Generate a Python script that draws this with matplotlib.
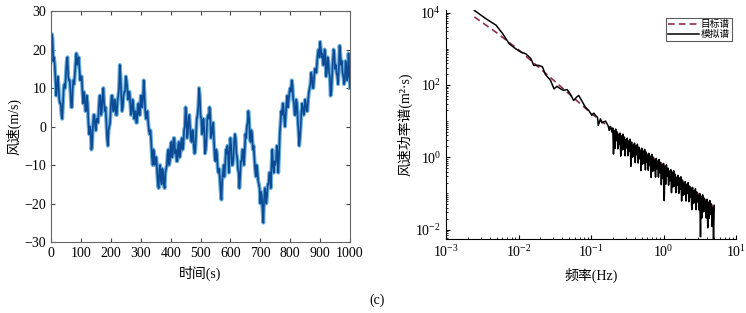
"""Wind speed time history (left) and its power spectrum vs target (right)."""
import matplotlib
matplotlib.use("Agg")
import matplotlib.pyplot as plt
import numpy as np
from matplotlib.ticker import LogLocator, NullFormatter

plt.rcParams["font.family"] = ["Liberation Serif", "Noto Sans CJK SC"]
plt.rcParams["mathtext.fontset"] = "stix"
plt.rcParams["font.size"] = 10
plt.rcParams["path.simplify"] = False  # keep the fine zigzag of the noisy spectrum

# ---- left panel: wind speed history ----
# values at t = 0, 5, 10, ... 1000 s
wind_speed = [
    17, 23, 18, 12, 10, 11, 6, 3, 6, 11,
    14, 18, 12, 9, 5, 12, 14, 19, 17, 15,
    13, 9, 9, 4, 8, 1, 0, -6, 0, 3,
    -1, 2, 5, 8, 4, 10, 4, 1, -5, 0,
    5, 8, 4, 6, 3, 8, 16, 8, 5, 9,
    13, 10, 9, 6, 4, 6, 3, 1, 5, 3,
    8, 5, 12, 4, 3, 1, -2, -4, -10, -7,
    -8, -12, -16, -10, -15, -12, -16, -11, -7, -10,
    -5, -8, -3, -7, -9, -5, -8, -4, -6, -1,
    5, -3, 2, 0, -4, -1, -7, -2, 3, 10,
    3, -2, 2, -7, -3, 3, 5, -3, 0, -4,
    -9, -7, -12, -14, -19, -12, -13, -6, -5, -12,
    -3, -10, -8, -2, -7, -11, -16, -9, -6, -10,
    -2, 0, 4, -3, -1, -6, -8, -13, -11, -15,
    -20, -18, -25, -16, -20, -15, -12, -16, -6, -12,
    -10, -5, -12, -2, 4, 6, 2, 3, 8, 7,
    10, 12, 7, 3, 7, 2, -5, 0, 6, 3,
    7, 4, 7, 10, 14, 10, 13, 15, 17, 20,
    22, 18, 16, 20, 13, 18, 14, 8, 13, 20,
    15, 14, 11, 21, 16, 14, 11, 17, 12, 19,
    10,
]
# values at t = 2.5, 7.5, ... 997.5 s (fine-scale wiggle)
wind_speed_mid = [
    24, 17, 16, 8, 13, 7, 6, 2, 10, 10,
    17, 13, 12, 5, 10, 11, 17, 16, 18, 12,
    13, 6, 8, 4, 6, -2, -1, -5, 3, 0,
    2, 1, 8, 3, 8, 6, 5, -3, -1, 1,
    8, 4, 7, 3, 7, 10, 13, 4, 8, 9,
    12, 7, 9, 3, 7, 2, 4, 1, 6, 3,
    8, 7, 9, 2, 4, -1, -1, -8, -6, -10,
    -8, -15, -11, -14, -11, -15, -12, -10, -6, -9,
    -4, -7, -3, -6, -9, -4, -7, -3, -5, 0,
    3, -2, 3, -3, -1, -5, -6, 2, 5, 8,
    2, -1, -1, -6, 2, 2, 3, -2, 1, -8,
    -6, -11, -11, -17, -14, -10, -10, -7, -8, -6,
    -5, -10, -4, -3, -8, -12, -13, -9, -6, -7,
    -3, 1, 2, -4, -2, -5, -11, -10, -14, -16,
    -17, -22, -19, -17, -18, -15, -12, -10, -10, -9,
    -9, -7, -8, 1, 3, 5, 0, 6, 5, 9,
    9, 11, 6, 3, 6, -1, -3, 4, 5, 4,
    6, 4, 9, 11, 13, 10, 15, 14, 19, 18,
    20, 19, 16, 18, 14, 17, 13, 9, 17, 19,
    16, 13, 15, 19, 17, 13, 12, 16, 13, 15,
]
t_step = 5.0
t_main = np.arange(len(wind_speed)) * t_step
t_mid = np.arange(len(wind_speed_mid)) * t_step + t_step / 2
time_s = np.empty(len(t_main) + len(t_mid))
speed = np.empty_like(time_s)
time_s[0::2], time_s[1::2] = t_main, t_mid
speed[0::2], speed[1::2] = wind_speed, wind_speed_mid

# ---- right panel: spectra in log10 units ----
target_logf = [-2.61, -2.30, -2.00, -1.50, -1.00, -0.50, 0.00, 0.50, 0.70]
target_logS = [3.88, 3.44, 2.97, 2.10, 1.22, 0.45, -0.22, -1.05, -1.38]

# smooth low-frequency part of the simulated spectrum
sim_low_logf = [-2.61, -2.45, -2.31, -2.22, -2.13, -2.04, -1.97, -1.90, -1.83, -1.79,
                -1.72, -1.67, -1.63, -1.56, -1.51, -1.47, -1.42, -1.38, -1.33, -1.29,
                -1.24, -1.20, -1.17, -1.13, -1.08, -1.03, -0.99, -0.96, -0.94, -0.91,
                -0.90, -0.87, -0.85, -0.83, -0.80, -0.78, -0.76, -0.75, -0.73, -0.71]
sim_low_logS = [4.06, 3.83, 3.65, 3.42, 3.14, 3.00, 2.91, 2.86, 2.73, 2.54,
                2.54, 2.50, 2.29, 2.13, 1.89, 1.96, 1.89, 1.85, 1.87, 1.76,
                1.57, 1.66, 1.71, 1.57, 1.39, 1.29, 1.16, 1.22, 1.16, 1.10,
                0.88, 1.06, 0.95, 0.97, 1.00, 0.93, 0.85, 0.74, 0.85, 0.69]

# noisy high-frequency part, on a 0.01-decade grid from 10^-0.70 to 10^0.70
sim_high_logS = [
    0.81, 0.09, 0.73, 0.24, 0.78, 0.46, 0.70, 0.23, 0.62, 0.35,
    0.67, 0.03, 0.59, 0.20, 0.64, 0.22, 0.56, 0.04, 0.48, 0.26,
    0.53, 0.04, 0.45, 0.16, 0.50, -0.25, 0.42, 0.00, 0.34, 0.02,
    0.39, -0.15, 0.31, 0.07, 0.36, -0.16, 0.28, -0.04, 0.20, -0.37,
    0.25, -0.19, 0.17, -0.17, 0.22, -0.35, 0.14, -0.13, 0.06, -0.36,
    0.11, -0.23, 0.03, -0.56, 0.08, -0.39, 0.00, -0.37, -0.08, -0.55,
    -0.03, -0.32, -0.11, -0.55, -0.06, -0.43, -0.14, -0.76, -0.22, -0.59,
    -0.17, -1.20, -0.25, -0.75, -0.21, -0.53, -0.30, -0.77, -0.38, -0.65,
    -0.34, -0.98, -0.42, -0.82, -0.37, -0.80, -0.47, -0.98, -0.55, -0.77,
    -0.50, -1.00, -0.58, -0.88, -0.54, -1.21, -0.63, -1.05, -0.71, -1.03,
    -0.67, -1.21, -0.75, -1.00, -0.70, -1.23, -0.80, -1.11, -0.88, -1.45,
    -0.83, -1.28, -0.92, -1.26, -0.87, -1.45, -0.96, -1.23, -1.05, -1.46,
    -1.00, -2.20, -1.08, -1.68, -1.04, -1.51, -1.13, -1.50, -1.21, -1.68,
    -1.16, -1.95, -1.25, -1.69, -1.20, -1.58, -1.29, -1.91, -1.38, -2.28,
    -1.33,
]
sim_high_logf = np.round(np.arange(len(sim_high_logS)) * 0.01 - 0.70, 2)

sim_f = 10.0 ** np.concatenate([sim_low_logf, sim_high_logf])
sim_S = 10.0 ** np.concatenate([sim_low_logS, sim_high_logS])
tgt_f = 10.0 ** np.array(target_logf)
tgt_S = 10.0 ** np.array(target_logS)

fig = plt.figure(figsize=(7.46, 3.13), dpi=100)

# left panel
ax1 = fig.add_axes([0.0684, 0.2268, 0.4008, 0.738])
ax1.plot(time_s, speed, color="#6aaedc", linewidth=2.8)
ax1.plot(time_s, speed, color="#0d4a94", linewidth=1.2)
ax1.set_xlim(0, 1000)
ax1.set_ylim(-30, 30)
ax1.set_xticks(np.arange(0, 1001, 100))
ax1.set_yticks(np.arange(-30, 31, 10))
ax1.tick_params(direction="in", top=True, right=True, length=3, labelsize=10,
                color="#444444")
for sp in ax1.spines.values():
    sp.set_color("#666666")
ax1.set_xlabel("时间(s)", labelpad=4)
ax1.set_ylabel("风速(m/s)", labelpad=2)

# right panel
ax2 = fig.add_axes([0.5979, 0.2364, 0.3887, 0.7316])
ax2.loglog(tgt_f, tgt_S, color="#8c2d4f", linestyle="--", linewidth=1.2,
           dashes=(4, 2.5), label="目标谱")
ax2.loglog(sim_f, sim_S, color="black", linewidth=1.1, label="模拟谱")
ax2.set_xlim(1e-3, 1e1)
ax2.set_ylim(10 ** -2.26, 10 ** 4.07)
ax2.spines["top"].set_visible(False)
ax2.spines["right"].set_visible(False)
ax2.xaxis.set_major_locator(LogLocator(base=10, numticks=10))
ax2.yaxis.set_major_locator(LogLocator(base=100, numticks=10))
ax2.xaxis.set_minor_locator(LogLocator(base=10, subs=np.arange(2, 10), numticks=20))
ax2.yaxis.set_minor_locator(LogLocator(base=10, subs=np.arange(1, 10), numticks=20))
ax2.yaxis.set_minor_formatter(NullFormatter())
ax2.xaxis.set_minor_formatter(NullFormatter())
ax2.tick_params(which="both", direction="in", labelsize=10)
ax2.tick_params(which="major", length=3)
ax2.tick_params(which="minor", length=1.5)
ax2.set_xlabel("频率(Hz)", labelpad=6)
ax2.set_ylabel("风速功率谱(m²·s)", labelpad=2)
leg = ax2.legend(loc="upper right", bbox_to_anchor=(0.99, 0.97), fontsize=7,
                 frameon=True, fancybox=False, edgecolor="#333333",
                 handlelength=3.2, handletextpad=0.2, borderpad=0.2,
                 labelspacing=0.1, borderaxespad=0.1)
leg.get_frame().set_linewidth(0.8)

fig.text(0.505, 0.04, "(c)", ha="center", va="center", fontsize=10)

fig.savefig("out.png", dpi=100)
